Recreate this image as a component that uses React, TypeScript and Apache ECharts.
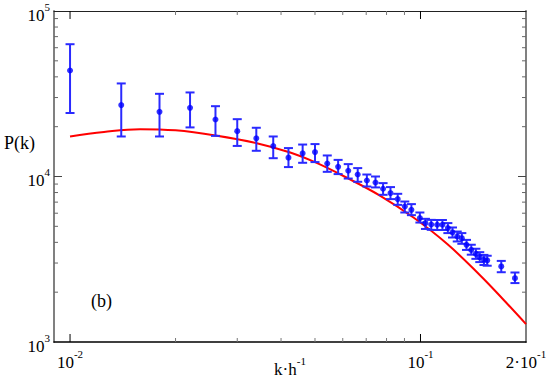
import React, { useEffect, useRef } from 'react';
import * as echarts from 'echarts';

// ---- data ----
const kValues = [0.0100, 0.0140, 0.0180, 0.0220, 0.0260, 0.0300, 0.0340, 0.0380, 0.0420, 0.0461, 0.0500, 0.0542, 0.0582, 0.0622, 0.0662, 0.0703, 0.0744, 0.0782, 0.0821, 0.0861, 0.0902, 0.0942, 0.0996, 0.1033, 0.1073, 0.1116, 0.1155, 0.1197, 0.1234, 0.1273, 0.1312, 0.1353, 0.1396, 0.1439, 0.1476, 0.1517, 0.1550, 0.1700, 0.1860];
const pValues = [43700, 27000, 24600, 26000, 22100, 18800, 17000, 15270, 13000, 13800, 14040, 11980, 11440, 10830, 10280, 9460, 9200, 8430, 7940, 7300, 6590, 6290, 5610, 5230, 5130, 5110, 5110, 4880, 4590, 4340, 4240, 3865, 3600, 3410, 3260, 3140, 3110, 2860, 2430];
const pLow = [24200, 17450, 17450, 19800, 17600, 15300, 14300, 12900, 11400, 12100, 12220, 10670, 10340, 9720, 9290, 8700, 8590, 7750, 7300, 6740, 6060, 5840, 5270, 4820, 4760, 4750, 4750, 4550, 4280, 4050, 3920, 3600, 3370, 3180, 3040, 2920, 2890, 2640, 2270];
const pHigh = [63000, 36500, 31600, 32200, 26600, 22200, 19700, 17450, 14850, 15600, 15700, 13400, 12600, 11880, 11240, 10280, 10000, 9120, 8630, 7860, 7060, 6810, 6060, 5550, 5470, 5460, 5460, 5230, 4920, 4650, 4550, 4140, 3870, 3660, 3490, 3360, 3320, 3090, 2630];

const curveK = [0.0100, 0.0125, 0.01585, 0.0200, 0.0260, 0.0341, 0.0425, 0.0500, 0.0619, 0.0768, 0.0955, 0.1190, 0.1476, 0.1725, 0.2000];
const curveP = [17450, 18600, 19330, 19000, 17700, 15900, 13960, 12200, 9780, 7640, 5650, 3920, 2540, 1800, 1283];

const X_MIN = 0.009;
const X_MAX = 0.2;
const Y_MIN = 1000;
const Y_MAX = 100000;

const xMajorTicks = [0.01, 0.1];
const xMinorTicks = [0.02, 0.03, 0.04, 0.05, 0.06, 0.07, 0.08, 0.09];
const yMajorTicks = [10000];
const yMinorTicks = [2000, 3000, 4000, 5000, 6000, 7000, 8000, 9000, 20000, 30000, 40000, 50000, 60000, 70000, 80000, 90000];

const xTickLabels = [
  { v: 0.01, base: '10', sup: '-2' },
  { v: 0.1, base: '10', sup: '-1' },
  { v: 0.2, base: '2·10', sup: '-1' },
];
const yTickLabels = [
  { v: 1000, base: '10', sup: '3' },
  { v: 10000, base: '10', sup: '4' },
  { v: 100000, base: '10', sup: '5' },
];

const FONT = '"Liberation Serif", "DejaVu Serif", serif';

const richStyle = {
  b: { fontFamily: FONT, fontSize: 17, lineHeight: 28, color: '#000' },
  s: { fontFamily: FONT, fontSize: 11, lineHeight: 10, verticalAlign: 'top' as const, color: '#000' },
};

function findLabel(list: { v: number; base: string; sup: string }[], v: number) {
  const t = list.find((it) => Math.abs(Math.log10(v / it.v)) < 1e-6);
  return t ? `{b|${t.base}}{s|${t.sup}}` : '';
}

export default function App() {
  const ref = useRef<HTMLDivElement>(null);

  useEffect(() => {
    if (!ref.current) return;
    const chart = echarts.init(ref.current, undefined, { renderer: 'svg' });

    const xTickData = [
      ...xMajorTicks.map((v) => [v, Y_MIN, 1]),
      ...xMinorTicks.map((v) => [v, Y_MIN, 0]),
    ];
    const yTickData = [
      ...yMajorTicks.map((v) => [X_MIN, v, 1]),
      ...yMinorTicks.map((v) => [X_MIN, v, 0]),
    ];

    const option: any = {
      animation: false,
      backgroundColor: '#fff',
      grid: { left: 54, right: 23, top: 11, bottom: 39, containLabel: false, outerBoundsMode: 'none' },
      xAxis: [
        {
          type: 'log',
          logBase: 10,
          min: X_MIN,
          max: X_MAX,
          position: 'bottom',
          axisLine: { show: true, onZero: false, lineStyle: { color: '#000', width: 1.5 } },
          axisTick: { show: false },
          minorTick: { show: false },
          splitLine: { show: false },
          axisLabel: {
            show: true,
            showMinLabel: true,
            showMaxLabel: true,
            hideOverlap: false,
            margin: 6,
            formatter: (v: number) => findLabel(xTickLabels, v),
            rich: richStyle,
          },
        },
        {
          type: 'log',
          logBase: 10,
          min: X_MIN,
          max: X_MAX,
          position: 'top',
          axisLine: { show: true, onZero: false, lineStyle: { color: '#222', width: 1 } },
          axisTick: { show: false },
          axisLabel: { show: false },
          splitLine: { show: false },
        },
      ],
      yAxis: [
        {
          type: 'log',
          logBase: 10,
          min: Y_MIN,
          max: Y_MAX,
          position: 'left',
          axisLine: { show: true, onZero: false, lineStyle: { color: '#808080', width: 2 } },
          axisTick: { show: false },
          minorTick: { show: false },
          splitLine: { show: false },
          axisLabel: {
            show: true,
            showMinLabel: true,
            showMaxLabel: true,
            hideOverlap: false,
            margin: 4,
            padding: [8, 0, 0, 0],
            formatter: (v: number) => findLabel(yTickLabels, v),
            rich: richStyle,
          },
        },
        {
          type: 'log',
          logBase: 10,
          min: Y_MIN,
          max: Y_MAX,
          position: 'right',
          axisLine: { show: true, onZero: false, lineStyle: { color: '#808080', width: 2 } },
          axisTick: { show: false },
          axisLabel: { show: false },
          splitLine: { show: false },
        },
      ],
      graphic: [
        {
          type: 'text',
          left: 4,
          top: 134,
          style: { text: 'P(k)', font: `18px ${FONT}`, fill: '#000' },
        },
        {
          type: 'text',
          left: 91,
          top: 292,
          style: { text: '(b)', font: `18px ${FONT}`, fill: '#000' },
        },
        {
          type: 'text',
          x: 290,
          y: 355,
          style: { text: '{b|k·h}{s|-1}', rich: richStyle, align: 'center', verticalAlign: 'top' },
        },
      ],
      series: [
        {
          type: 'custom',
          name: 'xticks',
          xAxisIndex: 0,
          yAxisIndex: 0,
          clip: false,
          silent: true,
          z: 5,
          encode: { x: 0, y: 1 },
          data: xTickData,
          renderItem: (params: any, api: any) => {
            const v = api.value(0);
            const major = api.value(2) === 1;
            const b = api.coord([v, Y_MIN]);
            const t = api.coord([v, Y_MAX]);
            const len = major ? 8 : 4;
            const stroke = major ? '#000' : '#777';
            return {
              type: 'group',
              children: [
                { type: 'line', shape: { x1: b[0], y1: b[1], x2: b[0], y2: b[1] - len }, style: { stroke, lineWidth: 1 } },
                { type: 'line', shape: { x1: t[0], y1: t[1], x2: t[0], y2: t[1] + len }, style: { stroke, lineWidth: 1 } },
              ],
            };
          },
        },
        {
          type: 'custom',
          name: 'yticks',
          xAxisIndex: 0,
          yAxisIndex: 0,
          clip: false,
          silent: true,
          z: 5,
          encode: { x: 0, y: 1 },
          data: yTickData,
          renderItem: (params: any, api: any) => {
            const v = api.value(1);
            const major = api.value(2) === 1;
            const l = api.coord([X_MIN, v]);
            const r = api.coord([X_MAX, v]);
            const len = major ? 8 : 4;
            const stroke = major ? '#444' : '#666';
            return {
              type: 'group',
              children: [
                { type: 'line', shape: { x1: l[0], y1: l[1], x2: l[0] + len, y2: l[1] }, style: { stroke, lineWidth: 1 } },
                { type: 'line', shape: { x1: r[0], y1: r[1], x2: r[0] - len, y2: r[1] }, style: { stroke, lineWidth: 1 } },
              ],
            };
          },
        },
        {
          type: 'line',
          name: 'model',
          data: curveK.map((k, i) => [k, curveP[i]]),
          smooth: 0.4,
          showSymbol: false,
          symbol: 'none',
          lineStyle: { color: '#ff0000', width: 2 },
          z: 2,
        },
        {
          type: 'custom',
          name: 'errors',
          encode: { x: 0, y: [1, 2] },
          data: kValues.map((k, i) => [k, pLow[i], pHigh[i]]),
          z: 3,
          renderItem: (params: any, api: any) => {
            const k = api.value(0);
            const lo = api.coord([k, api.value(1)]);
            const hi = api.coord([k, api.value(2)]);
            const hw = 4.5;
            const style = { stroke: '#2a2aff', lineWidth: 2 };
            return {
              type: 'group',
              children: [
                { type: 'line', shape: { x1: lo[0], y1: lo[1], x2: hi[0], y2: hi[1] }, style },
                { type: 'line', shape: { x1: lo[0] - hw, y1: lo[1], x2: lo[0] + hw, y2: lo[1] }, style },
                { type: 'line', shape: { x1: hi[0] - hw, y1: hi[1], x2: hi[0] + hw, y2: hi[1] }, style },
              ],
            };
          },
        },
        {
          type: 'scatter',
          name: 'data',
          data: kValues.map((k, i) => [k, pValues[i]]),
          symbol: 'circle',
          symbolSize: 6,
          itemStyle: { color: '#0000ff' },
          z: 4,
        },
      ],
    };

    chart.setOption(option);
    return () => chart.dispose();
  }, []);

  return <div ref={ref} style={{ position: 'fixed', left: 0, top: 0, width: 549, height: 381 }} />;
}
